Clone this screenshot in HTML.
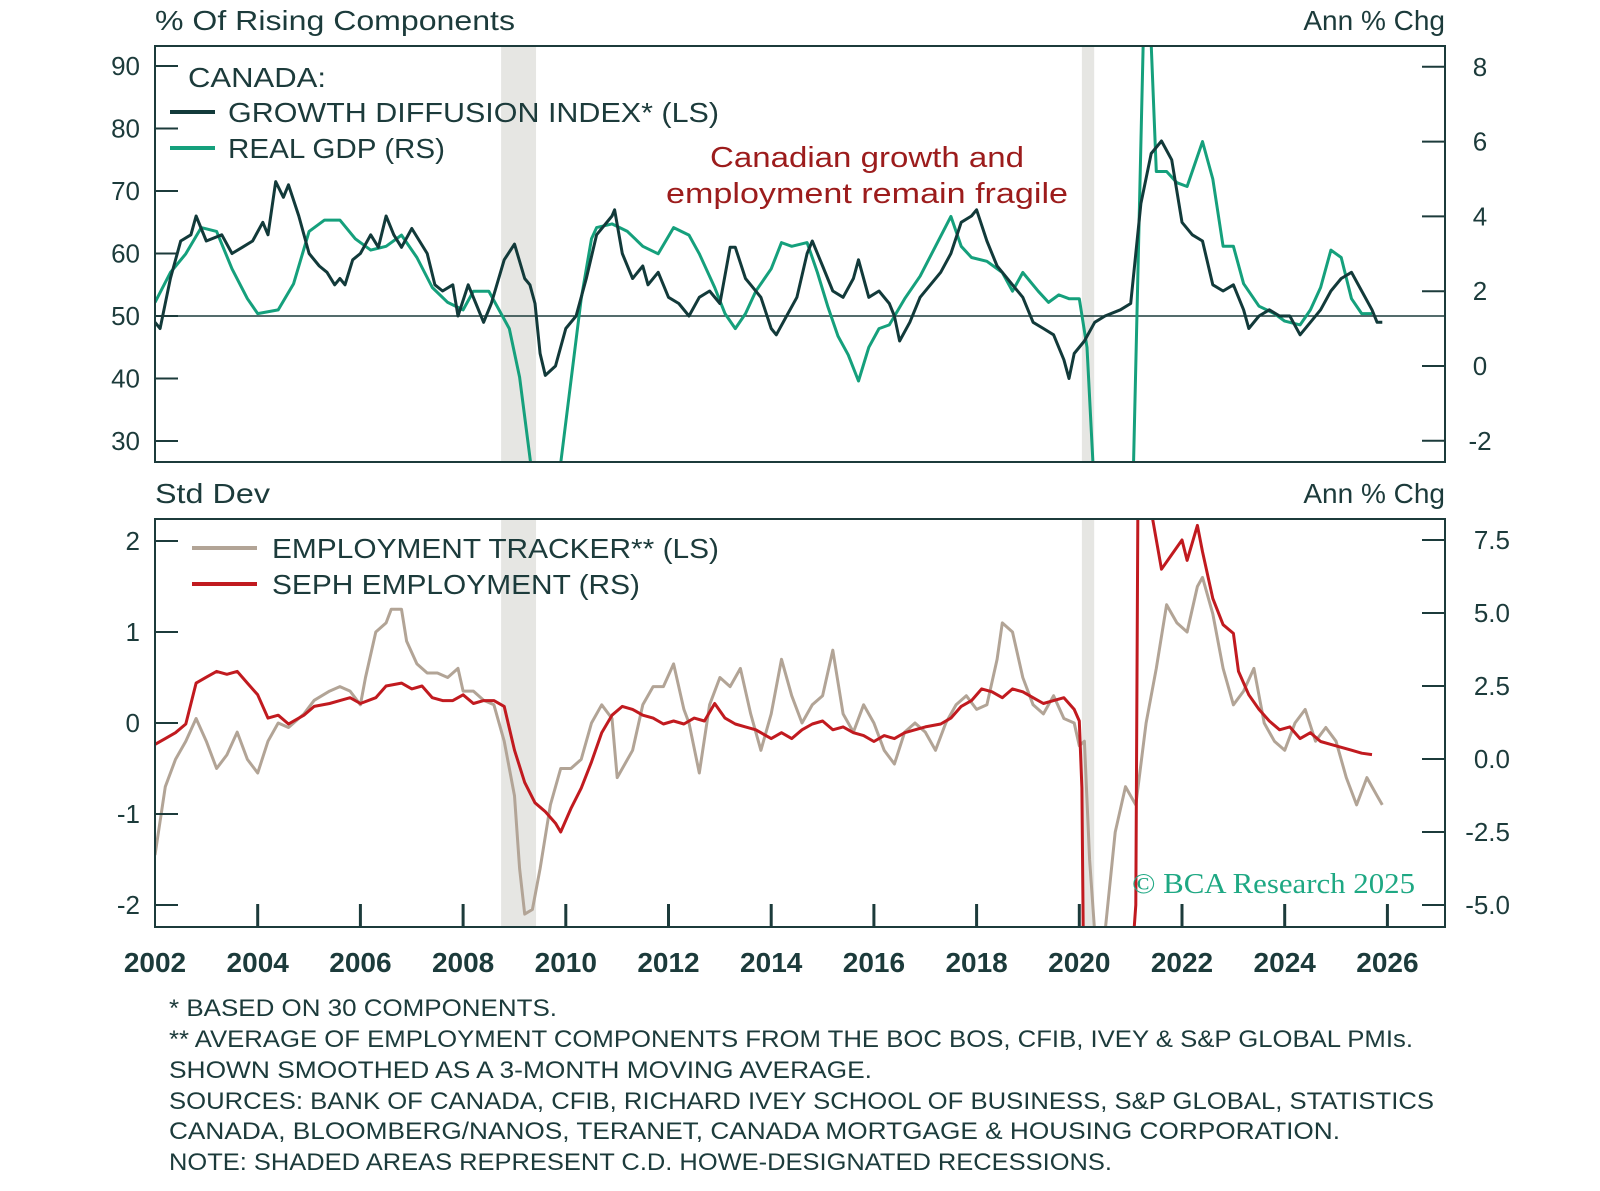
<!DOCTYPE html>
<html><head><meta charset="utf-8">
<style>
html,body{margin:0;padding:0;background:#fff;width:1600px;height:1191px;overflow:hidden;}
svg{display:block;font-family:"Liberation Sans",sans-serif;}
</style></head>
<body>
<svg id="chart" width="1600" height="1191" viewBox="0 0 1600 1191" xmlns="http://www.w3.org/2000/svg">
<defs>
<clipPath id="clipTop"><rect x="155" y="46" width="1290" height="416"/></clipPath>
<clipPath id="clipBot"><rect x="155" y="519" width="1290" height="408"/></clipPath>
</defs>
<g id="recTop"></g>
<g id="recBot"></g>

<text x="155" y="30" font-size="28" fill="#1c3b3b" textLength="360" lengthAdjust="spacingAndGlyphs">% Of Rising Components</text>
<text x="1445" y="30" font-size="28" fill="#1c3b3b" text-anchor="end">Ann % Chg</text>
<text x="155" y="503" font-size="28" fill="#1c3b3b" textLength="115" lengthAdjust="spacingAndGlyphs">Std Dev</text>
<text x="1445" y="503" font-size="28" fill="#1c3b3b" text-anchor="end">Ann % Chg</text>

<line x1="155" y1="316" x2="1445" y2="316" stroke="#1c3b3b" stroke-width="1.5"/>

<g id="linesTop" clip-path="url(#clipTop)"></g>
<g id="linesBot" clip-path="url(#clipBot)"></g>

<rect x="155" y="46" width="1290" height="416" fill="none" stroke="#1c3b3b" stroke-width="2"/>
<rect x="155" y="519" width="1290" height="408" fill="none" stroke="#1c3b3b" stroke-width="2"/>
<g id="axes"></g>

<g>
<text x="188" y="87" font-size="28" fill="#1c3b3b" textLength="138" lengthAdjust="spacingAndGlyphs">CANADA:</text>
<line x1="170" y1="112" x2="215" y2="112" stroke="#123a3a" stroke-width="4"/>
<text x="228" y="122" font-size="28" fill="#1c3b3b" textLength="491" lengthAdjust="spacingAndGlyphs">GROWTH DIFFUSION INDEX* (LS)</text>
<line x1="170" y1="148" x2="215" y2="148" stroke="#15a07c" stroke-width="4"/>
<text x="228" y="158" font-size="28" fill="#1c3b3b" textLength="217" lengthAdjust="spacingAndGlyphs">REAL GDP (RS)</text>
</g>
<g>
<text x="710" y="167" font-size="29" fill="#9c1c1c" textLength="314" lengthAdjust="spacingAndGlyphs">Canadian growth and</text>
<text x="666" y="203" font-size="29" fill="#9c1c1c" textLength="402" lengthAdjust="spacingAndGlyphs">employment remain fragile</text>
</g>
<g>
<line x1="192" y1="548" x2="257" y2="548" stroke="#b2a496" stroke-width="4"/>
<text x="272" y="558" font-size="28" fill="#1c3b3b" textLength="447" lengthAdjust="spacingAndGlyphs">EMPLOYMENT TRACKER** (LS)</text>
<line x1="192" y1="584" x2="257" y2="584" stroke="#c11a1f" stroke-width="4"/>
<text x="272" y="594" font-size="28" fill="#1c3b3b" textLength="368" lengthAdjust="spacingAndGlyphs">SEPH EMPLOYMENT (RS)</text>
</g>
<text x="1132" y="893" font-size="28" fill="#1ea883" font-family="Liberation Serif, serif" textLength="283" lengthAdjust="spacingAndGlyphs">© BCA Research 2025</text>

<g font-size="24" fill="#1c3b3b">
<text x="169" y="1016" textLength="388" lengthAdjust="spacingAndGlyphs">* BASED ON 30 COMPONENTS.</text>
<text x="169" y="1047" textLength="1244" lengthAdjust="spacingAndGlyphs">** AVERAGE OF EMPLOYMENT COMPONENTS FROM THE BOC BOS, CFIB, IVEY &amp; S&amp;P GLOBAL PMIs.</text>
<text x="169" y="1078" textLength="703" lengthAdjust="spacingAndGlyphs">SHOWN SMOOTHED AS A 3-MONTH MOVING AVERAGE.</text>
<text x="169" y="1109" textLength="1265" lengthAdjust="spacingAndGlyphs">SOURCES: BANK OF CANADA, CFIB, RICHARD IVEY SCHOOL OF BUSINESS, S&amp;P GLOBAL, STATISTICS</text>
<text x="169" y="1139" textLength="1171" lengthAdjust="spacingAndGlyphs">CANADA, BLOOMBERG/NANOS, TERANET, CANADA MORTGAGE &amp; HOUSING CORPORATION.</text>
<text x="169" y="1170" textLength="943" lengthAdjust="spacingAndGlyphs">NOTE: SHADED AREAS REPRESENT C.D. HOWE-DESIGNATED RECESSIONS.</text>
</g>
</svg>
<script>
// ---- data ----
const recessionStarts = [2008.74, 2020.05];
const recessionEnds = [2009.42, 2020.29];
const yearTicks = [2002,2004,2006,2008,2010,2012,2014,2016,2018,2020,2022,2024,2026];
const topLeftTicks = [30,40,50,60,70,80,90];
const topRightTicks = [-2,0,2,4,6,8];
const botLeftTicks = [-2,-1,0,1,2];
const botRightTicks = [-5,-2.5,0,2.5,5,7.5];
const botRightLabels = ["-5.0","-2.5","0.0","2.5","5.0","7.5"];

const diffDates = [2002.0,2002.1,2002.3,2002.5,2002.7,2002.8,2003.0,2003.3,2003.5,2003.7,2003.9,2004.1,2004.2,2004.35,2004.5,2004.6,2004.8,2005.0,2005.2,2005.35,2005.5,2005.6,2005.7,2005.85,2006.0,2006.2,2006.35,2006.5,2006.65,2006.8,2007.0,2007.15,2007.3,2007.45,2007.6,2007.8,2007.9,2008.1,2008.25,2008.4,2008.55,2008.8,2009.0,2009.2,2009.3,2009.4,2009.5,2009.6,2009.8,2010.0,2010.2,2010.4,2010.6,2010.9,2010.95,2011.1,2011.3,2011.5,2011.6,2011.8,2012.0,2012.2,2012.4,2012.6,2012.8,2013.0,2013.2,2013.3,2013.5,2013.6,2013.8,2014.0,2014.1,2014.3,2014.5,2014.7,2014.8,2015.0,2015.2,2015.4,2015.6,2015.7,2015.9,2016.1,2016.3,2016.4,2016.5,2016.7,2016.9,2017.1,2017.3,2017.5,2017.7,2017.9,2018.0,2018.2,2018.4,2018.5,2018.7,2018.9,2019.1,2019.3,2019.5,2019.7,2019.8,2019.9,2020.1,2020.3,2020.5,2020.8,2021.0,2021.2,2021.4,2021.6,2021.8,2022.0,2022.2,2022.4,2022.6,2022.8,2023.0,2023.2,2023.3,2023.5,2023.7,2023.9,2024.1,2024.3,2024.5,2024.7,2024.9,2025.1,2025.3,2025.5,2025.7,2025.8,2025.9];
const diffValues = [49,48,56,62,63,66,62,63,60,61,62,65,63,71.5,69,71,66,60,58,57,55,56,55,59,60,63,61,66,63,61,64,62,60,55,54,55,50,55,52,49,52,59,61.5,56,55,52,44,40.5,42,48,50,56,63,66,67,60,56,58,55,57,53,52,50,53,54,52,61,61,56,55,53,48,47,50,53,60,62,58,54,53,56,59,53,54,52,50,46,49,53,55,57,60,65,66,67,62,58,57,55,53,49,48,47,43,40,44,46,49,50,51,52,68,76,78,75,65,63,62,55,54,55,51,48,50,51,50,50,47,49,51,54,56,57,54,51,49,49];

const gdpDates = [2002.0,2002.3,2002.6,2002.9,2003.2,2003.5,2003.8,2004.0,2004.4,2004.7,2005.0,2005.3,2005.6,2005.9,2006.2,2006.5,2006.8,2007.1,2007.4,2007.7,2008.0,2008.2,2008.5,2008.9,2009.1,2009.4,2009.6,2009.9,2010.3,2010.5,2010.6,2010.9,2011.2,2011.5,2011.8,2012.1,2012.4,2012.6,2012.9,2013.1,2013.3,2013.5,2013.7,2014.0,2014.2,2014.4,2014.7,2014.9,2015.1,2015.3,2015.5,2015.7,2015.9,2016.1,2016.3,2016.6,2016.9,2017.2,2017.5,2017.7,2017.9,2018.2,2018.5,2018.7,2018.9,2019.2,2019.4,2019.6,2019.8,2020.0,2020.15,2020.3,2020.5,2020.8,2021.0,2021.05,2021.3,2021.5,2021.7,2021.9,2022.1,2022.4,2022.6,2022.8,2023.0,2023.2,2023.5,2023.8,2024.0,2024.3,2024.5,2024.7,2024.9,2025.1,2025.3,2025.5,2025.7];
const gdpValues = [1.7,2.5,3.0,3.7,3.6,2.6,1.8,1.4,1.5,2.2,3.6,3.9,3.9,3.4,3.1,3.2,3.5,2.9,2.1,1.7,1.5,2.0,2.0,1.0,-0.3,-3.5,-3.6,-2.6,1.8,3.4,3.7,3.8,3.6,3.2,3.0,3.7,3.5,3.0,2.1,1.4,1.0,1.4,2.0,2.6,3.3,3.2,3.3,2.5,1.6,0.8,0.3,-0.4,0.5,1.0,1.1,1.8,2.4,3.2,4.0,3.2,2.9,2.8,2.5,2.0,2.5,2.0,1.7,1.9,1.8,1.8,0.5,-3.5,-13,-5,-3,-3,12,5.2,5.2,4.9,4.8,6.0,5.0,3.2,3.2,2.2,1.6,1.4,1.2,1.1,1.5,2.1,3.1,2.9,1.8,1.4,1.4];

const trackDates = [2002.0,2002.2,2002.4,2002.6,2002.8,2003.0,2003.2,2003.4,2003.6,2003.8,2004.0,2004.2,2004.4,2004.6,2004.9,2005.1,2005.4,2005.6,2005.8,2006.0,2006.1,2006.3,2006.5,2006.6,2006.8,2006.9,2007.1,2007.3,2007.5,2007.7,2007.9,2008.0,2008.2,2008.4,2008.6,2008.8,2009.0,2009.1,2009.2,2009.35,2009.5,2009.7,2009.9,2010.1,2010.3,2010.5,2010.7,2010.9,2011.0,2011.3,2011.5,2011.7,2011.9,2012.1,2012.3,2012.4,2012.6,2012.8,2013.0,2013.2,2013.4,2013.6,2013.8,2014.0,2014.2,2014.4,2014.6,2014.8,2015.0,2015.2,2015.4,2015.6,2015.8,2016.0,2016.2,2016.4,2016.6,2016.8,2017.0,2017.2,2017.4,2017.6,2017.8,2018.0,2018.2,2018.4,2018.5,2018.7,2018.9,2019.1,2019.3,2019.5,2019.7,2019.9,2020.0,2020.1,2020.2,2020.3,2020.5,2020.7,2020.9,2021.1,2021.3,2021.5,2021.7,2021.9,2022.1,2022.3,2022.4,2022.6,2022.8,2023.0,2023.2,2023.4,2023.6,2023.8,2024.0,2024.2,2024.4,2024.6,2024.8,2025.0,2025.2,2025.4,2025.6,2025.8,2025.9];
const trackValues = [-1.45,-0.7,-0.4,-0.2,0.05,-0.2,-0.5,-0.35,-0.1,-0.4,-0.55,-0.2,0.0,-0.05,0.1,0.25,0.35,0.4,0.35,0.2,0.5,1.0,1.1,1.25,1.25,0.9,0.65,0.55,0.55,0.5,0.6,0.35,0.35,0.25,0.2,-0.2,-0.8,-1.6,-2.1,-2.05,-1.6,-0.9,-0.5,-0.5,-0.4,0.0,0.2,0.05,-0.6,-0.3,0.2,0.4,0.4,0.65,0.15,0.0,-0.55,0.2,0.5,0.4,0.6,0.1,-0.3,0.1,0.7,0.3,0.0,0.2,0.3,0.8,0.1,-0.1,0.2,0.0,-0.3,-0.45,-0.1,0.0,-0.1,-0.3,0.0,0.2,0.3,0.15,0.2,0.7,1.1,1.0,0.5,0.2,0.1,0.3,0.05,0.0,-0.25,-0.2,-1.5,-2.3,-2.3,-1.2,-0.7,-0.9,0.0,0.6,1.3,1.1,1.0,1.5,1.6,1.2,0.6,0.2,0.35,0.6,0.0,-0.2,-0.3,0.0,0.15,-0.2,-0.05,-0.2,-0.6,-0.9,-0.6,-0.8,-0.9];

const sephDates = [2002.0,2002.2,2002.4,2002.6,2002.8,2003.0,2003.2,2003.4,2003.6,2003.8,2004.0,2004.2,2004.4,2004.6,2004.9,2005.1,2005.4,2005.6,2005.8,2006.0,2006.3,2006.5,2006.8,2007.0,2007.2,2007.4,2007.6,2007.8,2008.0,2008.2,2008.4,2008.6,2008.8,2009.0,2009.2,2009.4,2009.6,2009.8,2009.9,2010.1,2010.3,2010.5,2010.7,2010.9,2011.1,2011.3,2011.5,2011.7,2011.9,2012.1,2012.3,2012.5,2012.7,2012.9,2013.1,2013.3,2013.5,2013.7,2014.0,2014.2,2014.4,2014.6,2014.8,2015.0,2015.2,2015.4,2015.6,2015.8,2016.0,2016.2,2016.4,2016.6,2016.8,2017.0,2017.3,2017.5,2017.7,2017.9,2018.1,2018.3,2018.5,2018.7,2018.9,2019.1,2019.3,2019.5,2019.7,2019.9,2020.0,2020.05,2020.15,2020.5,2020.9,2021.1,2021.15,2021.35,2021.6,2021.8,2022.0,2022.1,2022.3,2022.4,2022.6,2022.8,2023.0,2023.1,2023.3,2023.5,2023.7,2023.9,2024.1,2024.3,2024.5,2024.7,2024.9,2025.1,2025.3,2025.5,2025.7];
const sephValues = [0.5,0.7,0.9,1.2,2.6,2.8,3.0,2.9,3.0,2.6,2.2,1.4,1.5,1.2,1.5,1.8,1.9,2.0,2.1,1.9,2.1,2.5,2.6,2.4,2.5,2.1,2.0,2.0,2.2,1.9,2.0,2.0,1.8,0.3,-0.8,-1.5,-1.8,-2.2,-2.5,-1.7,-1.0,-0.1,0.9,1.5,1.8,1.7,1.5,1.4,1.2,1.3,1.2,1.4,1.3,1.9,1.4,1.2,1.1,1.0,0.7,0.9,0.7,1.0,1.2,1.3,1.0,1.1,0.9,0.8,0.6,0.8,0.7,0.9,1.0,1.1,1.2,1.4,1.8,2.0,2.4,2.3,2.1,2.4,2.3,2.1,1.9,2.0,2.1,1.7,1.3,-1,-20,-15,-10,-5,12,9,6.5,7.0,7.5,6.8,8.0,7.1,5.5,4.6,4.3,3.0,2.2,1.7,1.3,1.0,1.1,0.7,0.9,0.6,0.5,0.4,0.3,0.2,0.15];

// ---- scales ----
const X0 = 155, YEAR0 = 2002, PXYR = 51.35;
function xS(t){ return X0 + (t - YEAR0) * PXYR; }
function yTopL(v){ return 316 - (v - 50) * 6.25; }
function yTopR(v){ return 366 - v * 37.4; }
function yBotL(v){ return 723 - v * 91; }
function yBotR(v){ return 759 - v * 29.2; }

const NS = "http://www.w3.org/2000/svg";
function mk(tag, attrs, parent){
  const e = document.createElementNS(NS, tag);
  for (const k in attrs) e.setAttribute(k, attrs[k]);
  parent.appendChild(e);
  return e;
}

const recTop = document.getElementById('recTop');
const recBot = document.getElementById('recBot');
for (let i = 0; i < recessionStarts.length; i++){
  const a = xS(recessionStarts[i]), b = xS(recessionEnds[i]);
  const r1 = mk('rect', {x:a, y:46, width:b-a, height:416, fill:'#e6e6e3'}, recTop);
  
  
  const r2 = mk('rect', {x:a, y:519, width:b-a, height:408, fill:'#e6e6e3'}, recBot);
  
  
}

function drawLine(parent, dates, vals, yf, color, name){
  let d = '';
  for (let i = 0; i < dates.length; i++){
    d += (i ? 'L' : 'M') + xS(dates[i]).toFixed(1) + ',' + yf(vals[i]).toFixed(1);
  }
  const p = mk('path', {d:d, fill:'none', stroke:color, 'stroke-width':3, 'stroke-linejoin':'round'}, parent);
  
  
}
const lt = document.getElementById('linesTop');
const lb = document.getElementById('linesBot');
drawLine(lt, gdpDates, gdpValues, yTopR, '#15a07c', 'real-gdp-line');
drawLine(lt, diffDates, diffValues, yTopL, '#123a3a', 'growth-diffusion-line');
drawLine(lb, trackDates, trackValues, yBotL, '#b2a496', 'employment-tracker-line');
drawLine(lb, sephDates, sephValues, yBotR, '#c11a1f', 'seph-employment-line');

const ax = document.getElementById('axes');
const TC = '#1c3b3b';
topLeftTicks.forEach(v => {
  const y = yTopL(v);
  mk('line', {x1:155, y1:y, x2:178, y2:y, stroke:TC, 'stroke-width':2}, ax);
  const t = mk('text', {x:140, y:y+9, 'font-size':26, fill:TC, 'text-anchor':'end'}, ax);
  t.textContent = v;
  
  
});
topRightTicks.forEach(v => {
  const y = yTopR(v);
  mk('line', {x1:1422, y1:y, x2:1445, y2:y, stroke:TC, 'stroke-width':2}, ax);
  const t = mk('text', {x:1480, y:y+9, 'font-size':26, fill:TC, 'text-anchor':'middle'}, ax);
  t.textContent = v;
  
  
});
botLeftTicks.forEach(v => {
  const y = yBotL(v);
  mk('line', {x1:155, y1:y, x2:178, y2:y, stroke:TC, 'stroke-width':2}, ax);
  const t = mk('text', {x:140, y:y+9, 'font-size':26, fill:TC, 'text-anchor':'end'}, ax);
  t.textContent = v;
  
  
});
botRightTicks.forEach((v, i) => {
  const y = yBotR(v);
  mk('line', {x1:1422, y1:y, x2:1445, y2:y, stroke:TC, 'stroke-width':2}, ax);
  const t = mk('text', {x:1510, y:y+9, 'font-size':26, fill:TC, 'text-anchor':'end'}, ax);
  t.textContent = botRightLabels[i];
  
  
});
yearTicks.forEach(yr => {
  const x = xS(yr);
  if (yr > 2002) mk('line', {x1:x, y1:904, x2:x, y2:927, stroke:TC, 'stroke-width':3}, ax);
  const t = mk('text', {x:x, y:972, 'font-size':28, 'font-weight':'bold', fill:TC, 'text-anchor':'middle'}, ax);
  t.textContent = yr;
  
  
});
</script>
</body></html>
